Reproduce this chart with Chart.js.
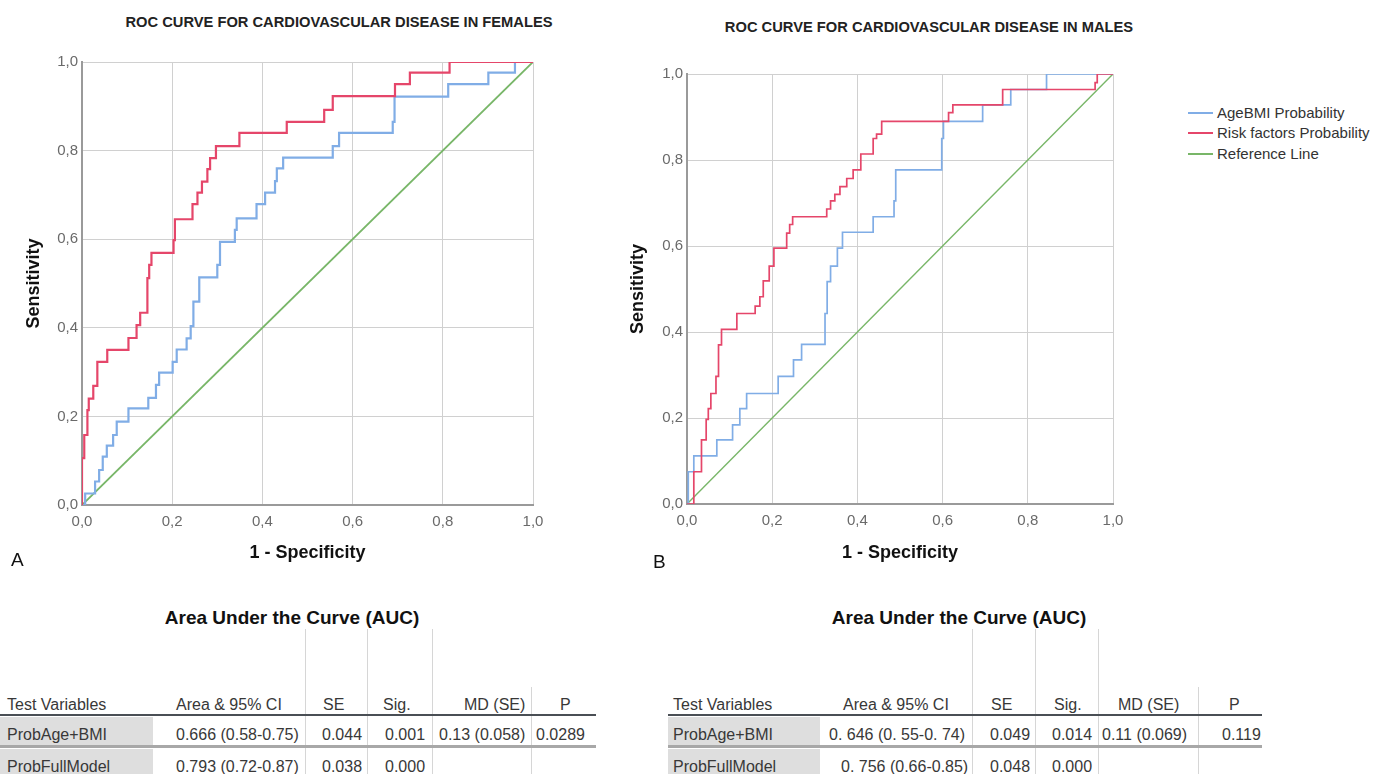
<!DOCTYPE html>
<html>
<head>
<meta charset="utf-8">
<script src="https://cdn.jsdelivr.net/npm/chart.js@4.4.1/dist/chart.umd.min.js"></script>
<style>
  body { margin: 0; width: 1375px; height: 774px; overflow: hidden; background: #fff;
         font-family: "Liberation Sans", Arial, sans-serif; position: relative; }
  .abs { position: absolute; white-space: nowrap; }
  .title { font-weight: bold; font-size: 14.7px; color: #222; transform: translate(-50%, -50%); }
  .panel { font-size: 19px; color: #111; }
  .legend { font-size: 15px; color: #333; }
  .legend .sw { position: absolute; width: 25px; height: 2px; left: -29px; top: 8px; }
  .tt { font-weight: bold; font-size: 19px; color: #111; transform: translate(-50%, -50%); }
  .cell { font-size: 16px; color: #383838; transform: translateY(-50%); }
  .gray { background: #dedede; }
  .vl { width: 1px; background: #d6d6d6; }
  canvas { position: absolute; }
</style>
</head>
<body>
<div class="abs title" style="left:339px; top:22px;">ROC CURVE FOR CARDIOVASCULAR DISEASE IN FEMALES</div>
<div class="abs title" style="left:929px; top:27px;">ROC CURVE FOR CARDIOVASCULAR DISEASE IN MALES</div>
<canvas id="rocFemales" width="575" height="575" style="left:0; top:0;"></canvas>
<canvas id="rocMales" width="520" height="575" style="left:620px; top:0;"></canvas>
<div class="abs panel" style="left:11px; top:549px;">A</div>
<div class="abs panel" style="left:653px; top:551px;">B</div>
<div id="legend"></div>
<div id="tables"></div>
<script>
// tick labels (SPSS style, decimal comma)
const tickLabels = ['0,0', '0,2', '0,4', '0,6', '0,8', '1,0'];

const seriesNames = ['AgeBMI Probability', 'Risk factors Probability', 'Reference Line'];
const seriesColors = ['#80ade6', '#e5466a', '#78b668'];

// Females: points where the curve steps up (1 - specificity, sensitivity)
const femAgeBmiFpr = [0, 0.007, 0.029, 0.038, 0.046, 0.055, 0.069, 0.077, 0.103, 0.147, 0.164, 0.171, 0.201, 0.21, 0.232, 0.241, 0.247, 0.26, 0.3, 0.306, 0.339, 0.343, 0.387, 0.406, 0.428, 0.432, 0.446, 0.556, 0.57, 0.689, 0.693, 0.812, 0.901, 0.96, 1];
const femAgeBmiTpr = [0, 0.026, 0.053, 0.079, 0.109, 0.134, 0.158, 0.188, 0.218, 0.242, 0.271, 0.299, 0.323, 0.351, 0.376, 0.404, 0.459, 0.514, 0.542, 0.594, 0.621, 0.647, 0.679, 0.705, 0.731, 0.76, 0.784, 0.81, 0.84, 0.865, 0.922, 0.95, 0.976, 1, 1];
const femRiskFpr = [0, 0, 0.005, 0.012, 0.015, 0.025, 0.034, 0.056, 0.103, 0.121, 0.129, 0.145, 0.149, 0.154, 0.203, 0.206, 0.245, 0.256, 0.266, 0.278, 0.284, 0.297, 0.349, 0.454, 0.537, 0.556, 0.694, 0.727, 0.815, 1];
const femRiskTpr = [0, 0.106, 0.158, 0.214, 0.24, 0.269, 0.323, 0.35, 0.377, 0.406, 0.434, 0.512, 0.542, 0.569, 0.598, 0.645, 0.679, 0.705, 0.73, 0.758, 0.783, 0.81, 0.84, 0.865, 0.892, 0.923, 0.95, 0.976, 1, 1];

// Males
const malAgeBmiFpr = [0, 0.003, 0.016, 0.07, 0.107, 0.124, 0.14, 0.214, 0.25, 0.269, 0.324, 0.329, 0.337, 0.353, 0.365, 0.437, 0.486, 0.49, 0.598, 0.602, 0.694, 0.76, 0.844, 1];
const malAgeBmiTpr = [0, 0.075, 0.112, 0.149, 0.184, 0.222, 0.257, 0.297, 0.335, 0.371, 0.443, 0.517, 0.553, 0.595, 0.632, 0.668, 0.705, 0.777, 0.85, 0.89, 0.928, 0.964, 1, 1];
const malRiskFpr = [0, 0.016, 0.034, 0.045, 0.05, 0.056, 0.068, 0.074, 0.081, 0.117, 0.16, 0.171, 0.179, 0.193, 0.204, 0.234, 0.241, 0.248, 0.328, 0.337, 0.347, 0.359, 0.375, 0.39, 0.408, 0.437, 0.445, 0.457, 0.614, 0.624, 0.741, 0.958, 0.963, 1];
const malRiskTpr = [0, 0.075, 0.149, 0.197, 0.222, 0.257, 0.297, 0.37, 0.406, 0.443, 0.46, 0.482, 0.519, 0.553, 0.595, 0.63, 0.65, 0.668, 0.686, 0.705, 0.72, 0.738, 0.757, 0.777, 0.814, 0.85, 0.86, 0.89, 0.91, 0.928, 0.964, 0.98, 1, 1];

const refFpr = [0, 1];
const refTpr = [0, 1];

// AUC tables
const tableHeader = ['Test Variables', 'Area & 95% CI', 'SE', 'Sig.', 'MD (SE)', 'P'];
const femRows = [
    ['ProbAge+BMI', '0.666 (0.58-0.75)', '0.044', '0.001', '0.13 (0.058)', '0.0289'],
    ['ProbFullModel', '0.793 (0.72-0.87)', '0.038', '0.000', '', '']
];
const malRows = [
    ['ProbAge+BMI', '0. 646 (0. 55-0. 74)', '0.049', '0.014', '0.11 (0.069)', '0.119'],
    ['ProbFullModel', '0. 756 (0.66-0.85)', '0.048', '0.000', '', '']
];

Chart.defaults.font.family = '"Liberation Sans", Arial, sans-serif';

function toPoints(xs, ys) {
    return xs.map((x, i) => ({ x: x, y: ys[i] }));
}

function rocDatasets(ageFpr, ageTpr, riskFpr, riskTpr, width) {
    return [{
        label: seriesNames[0],
        data: toPoints(ageFpr, ageTpr),
        borderColor: seriesColors[0],
        borderWidth: width,
        stepped: 'before',
        order: 2
    }, {
        label: seriesNames[1],
        data: toPoints(riskFpr, riskTpr),
        borderColor: seriesColors[1],
        borderWidth: width,
        stepped: 'before',
        order: 1
    }, {
        label: seriesNames[2],
        data: toPoints(refFpr, refTpr),
        borderColor: seriesColors[2],
        borderWidth: width - 0.3,
        order: 3
    }];
}

function initializeRoc(id, datasets, pad, yWidth, yTitlePad, xHeight) {
    const ctx = document.getElementById(id);
    const tickOpts = {
        stepSize: 0.2,
        autoSkip: false,
        maxRotation: 0,
        color: '#6a6a6a',
        font: { size: 15 },
        callback: (value, index) => tickLabels[index]
    };
    new Chart(ctx, {
        type: 'scatter',
        data: { datasets: datasets },
        options: {
            responsive: false,
            animation: false,
            showLine: true,
            layout: { padding: pad },
            elements: { point: { radius: 0 }, line: { tension: 0 } },
            plugins: { legend: { display: false }, tooltip: { enabled: false } },
            scales: {
                x: {
                    min: 0, max: 1,
                    ticks: Object.assign({ padding: 8 }, tickOpts),
                    grid: { color: '#d0d0d0', drawTicks: false },
                    border: { color: '#9a9a9a', width: 2 },
                    title: { display: true, text: '1 - Specificity', color: '#111',
                             font: { size: 18, weight: 'bold' }, padding: { bottom: 11 } },
                    afterFit: scale => { scale.height = xHeight; }
                },
                y: {
                    min: 0, max: 1,
                    ticks: Object.assign({ padding: 4 }, tickOpts),
                    grid: { color: '#d0d0d0', drawTicks: false },
                    border: { color: '#9a9a9a', width: 2 },
                    title: { display: true, text: 'Sensitivity', color: '#111',
                             font: { size: 18, weight: 'bold' }, padding: { top: yTitlePad } },
                    afterFit: scale => { scale.width = yWidth; }
                }
            }
        }
    });
}

function buildLegend() {
    const box = document.getElementById('legend');
    const tops = [104, 124, 145];
    seriesNames.forEach((name, i) => {
        const d = document.createElement('div');
        d.className = 'abs legend';
        d.style.left = '1217px';
        d.style.top = tops[i] + 'px';
        d.innerHTML = '<span class="sw" style="background:' + seriesColors[i] + '"></span>' + name;
        box.appendChild(d);
    });
}

function buildTable(x0, titleX, rows, colX, vlines, lastVline, grayW, lineW) {
    const box = document.getElementById('tables');
    const add = (html, cls, style) => {
        const d = document.createElement('div');
        d.className = 'abs ' + cls;
        d.setAttribute('style', style);
        d.innerHTML = html;
        box.appendChild(d);
    };
    add('Area Under the Curve (AUC)', 'tt', 'left:' + titleX + 'px; top:618px;');
    vlines.forEach(x => add('', 'vl', 'left:' + x + 'px; top:629px; height:145px;'));
    add('', 'vl', 'left:' + lastVline + 'px; top:687px; height:87px;');
    add('', 'gray', 'left:' + x0 + 'px; top:717px; width:' + grayW + 'px; height:29px;');
    add('', 'gray', 'left:' + x0 + 'px; top:749px; width:' + grayW + 'px; height:25px;');
    add('', '', 'left:' + x0 + 'px; top:714px; width:' + lineW + 'px; height:2px; background:#4a4f55;');
    add('', '', 'left:' + x0 + 'px; top:745px; width:' + lineW + 'px; height:3px; background:#a8a8a8;');
    const rowY = [705, 735, 767];
    [tableHeader].concat(rows).forEach((r, ri) => {
        r.forEach((txt, ci) => {
            if (txt) add(txt, 'cell', 'left:' + colX[ri][ci] + 'px; top:' + rowY[ri] + 'px;');
        });
    });
}

initializeRoc('rocFemales', rocDatasets(femAgeBmiFpr, femAgeBmiTpr, femRiskFpr, femRiskTpr, 2.2),
    { left: 10, top: 62, right: 42, bottom: 0 }, 72, 13, 70);
initializeRoc('rocMales', rocDatasets(malAgeBmiFpr, malAgeBmiTpr, malRiskFpr, malRiskTpr, 1.7),
    { left: 0, top: 74, right: 27, bottom: 0 }, 67, 7, 71);
buildLegend();
buildTable(0, 292, femRows,
    [[7, 176, 323, 383, 464, 560],
     [7, 176, 322, 385, 439, 536],
     [7, 176, 322, 385, 0, 0]],
    [305, 367, 432], 531, 153, 596);
buildTable(668, 959, malRows,
    [[673, 843, 991, 1054, 1118, 1229],
     [673, 829, 990, 1052, 1102, 1222],
     [673, 841, 990, 1052, 0, 0]],
    [972, 1035, 1098], 1198, 152, 594);
</script>
</body>
</html>
